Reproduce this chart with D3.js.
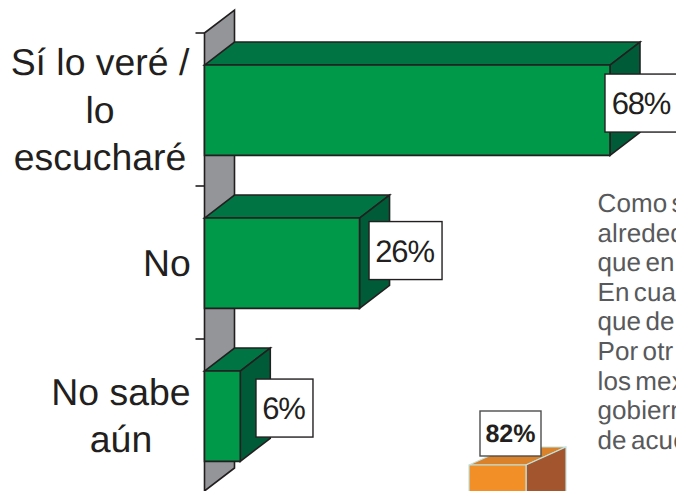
<!DOCTYPE html>
<html><head><meta charset="utf-8">
<script src="https://cdn.jsdelivr.net/npm/d3@7"></script>
<style>html,body{margin:0;padding:0;background:#fff;overflow:hidden}svg{display:block}text{font-family:"Liberation Sans",Arial,sans-serif;text-rendering:geometricPrecision}</style>
</head><body><svg id="c" width="676" height="491"></svg>
<script>
const categories = [["Sí lo veré /","lo","escucharé"],["No"],["No sabe","aún"]];
const categoryKeys = ["Si","No","NoSabe"];
const values = [68,26,6];
const valueLabels = ["68%","26%","6%"];
const sideNote = ["Como s","alreded","que en","En cua","que de","Por otr","los mex","gobiern","de acue"];
const otherValue = [82];
const otherLabel = ["82%"];

const svg = d3.select("#c");
const W=676,H=491, dk="#231f20";
const x0=204.5, dx=30, dy=-23;
const x = d3.scaleLinear().domain([0,100]).range([x0,x0+596.3]);
const y = d3.scaleBand().domain(categoryKeys).range([33.7,492.7]).paddingInner(.41).paddingOuter(.205);
const poly=(pts,fill,stroke,sw)=>svg.append("polygon").attr("points",pts.map(p=>p.join(",")).join(" ")).attr("fill",fill).attr("stroke",stroke).attr("stroke-width",sw).attr("stroke-linejoin","miter");

const [yTop,yBot]=[33,491];
poly([[x0,yTop],[x0+dx,yTop+dy],[x0+dx,yBot+dy],[x0,yBot]],"#939598",dk,1.6);
const tickYs=d3.range(4).map(i=>yTop+i*y.step());
svg.selectAll("line.t").data(tickYs).join("line").attr("class","t").attr("x1",x0-9).attr("x2",x0).attr("y1",d=>d).attr("y2",d=>d).attr("stroke",dk).attr("stroke-width",1.6);

categoryKeys.forEach((k,i)=>{
  const a=x(0),b=x(values[i]),t=y(k),h=y.bandwidth();
  poly([[a,t],[a+dx,t+dy],[b+dx,t+dy],[b,t]],"#007543",dk,1.6);
  poly([[b,t],[b+dx,t+dy],[b+dx,t+h+dy],[b,t+h]],"#005c38",dk,1.6);
  poly([[a,t],[b,t],[b,t+h],[a,t+h]],"#009949",dk,1.6);
});

const boxDx=[-5,9.5,15.7], boxW=[80,73,57], boxDy=[9,3.5,8], boxH=58;
categoryKeys.forEach((k,i)=>{
  const bx=x(values[i])+boxDx[i], by=y(k)+boxDy[i];
  svg.append("rect").attr("x",bx).attr("y",by).attr("width",boxW[i]).attr("height",boxH).attr("fill","#fff").attr("stroke",dk).attr("stroke-width",1.4);
  svg.append("text").attr("x",bx+(i==0?36:boxW[i]/2-1)).attr("y",by+boxH/2+11).attr("text-anchor","middle").attr("font-size",31).attr("letter-spacing",-1.2).attr("fill",dk).text(valueLabels[i]);
});

const lh=47.5;
categoryKeys.forEach((k,i)=>{
  const lines=categories[i], cy=y(k)+y.bandwidth()/2;
  const t=svg.append("text").attr("font-size",37.4).attr("fill",dk).attr("text-anchor","middle");
  const cx=[100,167,121][i];
  lines.forEach((s,j)=>t.append("tspan").attr("x",cx).attr("y",cy+12.3+(j-(lines.length-1)/2)*lh).text(s));
});

svg.selectAll("text.n").data(sideNote).join("text").attr("class","n").attr("x",597.5).attr("y",(d,i)=>212+i*29.6).attr("font-size",26).attr("letter-spacing",0.1).attr("word-spacing",-3).attr("fill","#58595b").text(d=>d);

const oy=d3.scaleLinear().domain([0,82]).range([H+300,465]);
const ox0=469,ow=57,odx=40,ody=-18,oT=oy(otherValue[0]),st="#bfe3e0";
poly([[ox0,oT],[ox0+odx,oT+ody],[ox0+ow+odx,oT+ody],[ox0+ow,oT]],"#d9812b",st,1.2);
poly([[ox0+ow,oT],[ox0+ow+odx,oT+ody],[ox0+ow+odx,H+10],[ox0+ow,H+10]],"#a3552d",st,1.2);
poly([[ox0,oT],[ox0+ow,oT],[ox0+ow,H+10],[ox0,H+10]],"#f28f27",st,1.2);
svg.append("rect").attr("x",480).attr("y",411).attr("width",61).attr("height",45).attr("fill","#fff").attr("stroke","#4d4d4d").attr("stroke-width",1.4);
svg.append("text").attr("x",510.5).attr("y",442).attr("text-anchor","middle").attr("font-size",25).attr("font-weight","bold").attr("fill",dk).text(otherLabel[0]);
</script></body></html>
